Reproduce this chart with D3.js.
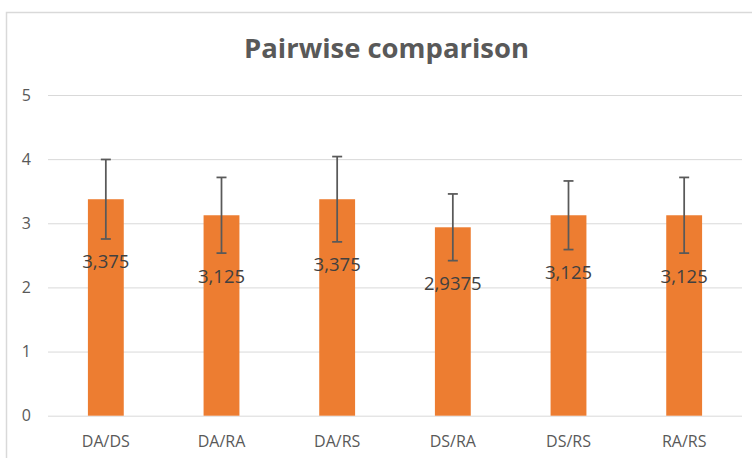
<!DOCTYPE html>
<html>
<head>
<meta charset="utf-8">
<script src="https://cdn.jsdelivr.net/npm/d3@7"></script>
<style>
  html, body { margin: 0; padding: 0; background: #fff; }
  svg { display: block; }
</style>
</head>
<body>
<svg id="chart" width="752" height="458"></svg>
<script>
// ---- data ----
const categories = ["DA/DS", "DA/RA", "DA/RS", "DS/RA", "DS/RS", "RA/RS"];
const means = [3.375, 3.125, 3.375, 2.9375, 3.125, 3.125];
const errors = [0.62, 0.59, 0.665, 0.52, 0.535, 0.59];
const labels = ["3,375", "3,125", "3,375", "2,9375", "3,125", "3,125"];
const yTicks = [0, 1, 2, 3, 4, 5];
const title = "Pairwise comparison";

// ---- layout ----
const FONT = "'Open Sans', 'Noto Sans', sans-serif";
const plot = { left: 48, right: 742, top: 95, bottom: 415.7 };
const svg = d3.select("#chart");

// frame
svg.append("rect")
  .attr("x", 6.5).attr("y", 12.5)
  .attr("width", 800).attr("height", 500)
  .attr("fill", "#fff")
  .attr("stroke", "#d9d9d9").attr("stroke-width", 1.5);

const x = d3.scaleBand()
  .domain(categories)
  .range([plot.left, plot.right])
  .paddingInner(0.69)
  .paddingOuter(0.345);

const y = d3.scaleLinear()
  .domain([0, 5])
  .range([plot.bottom, plot.top]);

// gridlines
const grid = svg.append("g")
  .attr("transform", `translate(${plot.left},0)`)
  .call(d3.axisLeft(y).tickValues(yTicks).tickSize(-(plot.right - plot.left)).tickFormat(""));
grid.select(".domain").remove();
grid.selectAll("line").attr("stroke", "#d9d9d9").attr("stroke-width", 1);

// y tick labels
const yAxis = svg.append("g")
  .attr("transform", `translate(${plot.left},0)`)
  .call(d3.axisLeft(y).tickValues(yTicks).tickSize(0).tickPadding(17).tickFormat(d3.format("d")));
yAxis.select(".domain").remove();
yAxis.selectAll("text")
  .attr("font-family", FONT)
  .attr("font-size", 16)
  .attr("fill", "#595959");

// x axis labels
const xAxis = svg.append("g")
  .attr("transform", `translate(0,${plot.bottom})`)
  .call(d3.axisBottom(x).tickSize(0).tickPadding(19.6));
xAxis.select(".domain").remove();
xAxis.selectAll("text")
  .attr("font-family", FONT)
  .attr("font-size", 16)
  .attr("fill", "#595959");

// bars
svg.append("g").selectAll("rect")
  .data(categories)
  .join("rect")
  .attr("x", d => x(d))
  .attr("width", x.bandwidth())
  .attr("y", (d, i) => y(means[i]))
  .attr("height", (d, i) => y(0) - y(means[i]))
  .attr("fill", "#ED7D31");

// error bars
const eb = svg.append("g").attr("stroke", "#595959").attr("stroke-width", 1.75).attr("fill", "none");
categories.forEach((c, i) => {
  const cx = x(c) + x.bandwidth() / 2;
  const yt = y(means[i] + errors[i]);
  const yb = y(means[i] - errors[i]);
  eb.append("line").attr("x1", cx).attr("x2", cx).attr("y1", yt).attr("y2", yb);
  eb.append("line").attr("x1", cx - 5).attr("x2", cx + 5).attr("y1", yt).attr("y2", yt);
  eb.append("line").attr("x1", cx - 5).attr("x2", cx + 5).attr("y1", yb).attr("y2", yb);
});

// data labels (placed just below the lower error-bar cap)
svg.append("g").selectAll("text")
  .data(categories)
  .join("text")
  .attr("x", d => x(d) + x.bandwidth() / 2)
  .attr("y", (d, i) => y(means[i] - errors[i]) + 29.5)
  .attr("text-anchor", "middle")
  .attr("font-family", FONT)
  .attr("font-size", 18.5)
  .attr("fill", "#404040")
  .text((d, i) => labels[i]);

// title
const t = svg.append("text")
  .attr("x", 386.5).attr("y", 58)
  .attr("text-anchor", "middle")
  .attr("font-family", FONT)
  .attr("font-weight", 700)
  .attr("font-size", 26)
  .attr("fill", "#595959")
  .text(title);
const len = t.node().getComputedTextLength();
t.attr("font-size", 26 * 285 / len);
</script>
</body>
</html>
